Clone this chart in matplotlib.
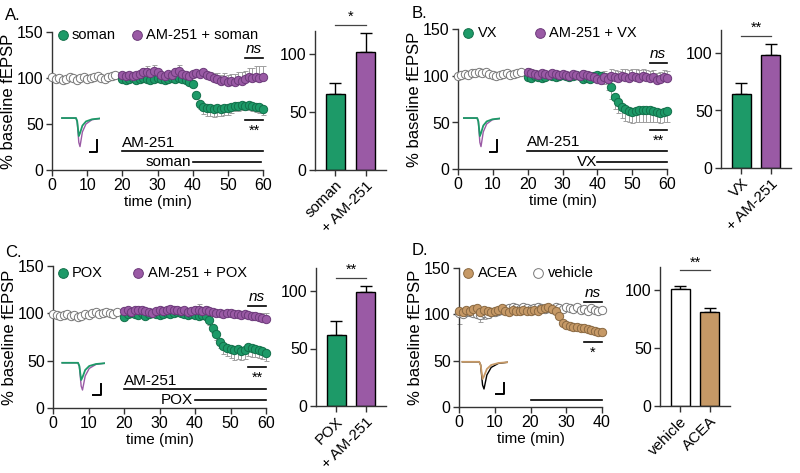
import numpy as np
import matplotlib
matplotlib.use('Agg')
import matplotlib.pyplot as plt

plt.rcParams['font.family'] = ['Liberation Sans', 'DejaVu Sans']
plt.rcParams['font.size'] = 10.5

# ---------------- data ----------------
t_base = list(range(0, 19))
t_drug = list(range(20, 61))
t_acea = list(range(0, 41))

# panel A (soman)
A_base = [101, 99, 100, 98, 99, 101, 100, 98, 100, 101, 99, 100, 101, 102, 100, 99, 101, 102, 103]
A_green = [99, 98, 99, 100, 98, 99, 100, 99, 98, 99, 100, 99, 98, 99, 100, 99, 100, 99,
           98, 96, 94, 82, 72, 68, 67, 67, 66, 67, 66, 67, 67, 68, 70, 70, 71, 70, 71, 70, 69, 68, 66]
A_green_err = [2] * 20 + [3, 5, 6, 7, 8, 8, 8, 8, 7, 7] + [7, 6, 6, 6, 6, 5, 6, 6, 6, 6, 6]
A_purple = [103, 102, 103, 102, 103, 104, 106, 107, 105, 108,
            106, 103, 102, 104, 103, 106, 108, 104, 103, 102,
            104, 105, 104, 106, 103, 102, 100, 99, 97, 98,
            96, 97, 96, 98, 97, 99, 101, 100, 101, 100, 101]
A_purple_err = [3, 3, 2, 3, 3, 3, 5, 6, 5, 6, 4, 3, 3, 3, 3, 5, 6, 3, 3, 3,
                3, 3, 3, 4, 4, 4, 5, 6, 6, 7, 7, 7, 8, 8, 9, 9, 10, 11, 12, 13, 12]

# panel B (VX)
B_base = [100, 101, 102, 101, 103, 103, 104, 103, 104, 102, 101, 100, 101, 102, 103, 101, 102, 103, 104]
B_green = [99, 98, 100, 99, 98, 99, 101, 100, 99, 100,
           101, 100, 99, 100, 101, 100, 97, 98, 97, 100,
           101, 100, 99, 97, 88, 77, 72, 67, 64, 62,
           61, 62, 63, 63, 63, 63, 62, 61, 60, 61, 62]
B_green_err = [2] * 20 + [3, 4, 8, 12, 13, 12, 12, 12, 12, 12] + [12] * 6 + [11] * 5
B_purple = [104, 103, 102, 101, 103, 102, 101, 103, 102, 101,
            102, 101, 100, 102, 101, 100, 102, 101, 100, 99,
            97, 96, 99, 97, 100, 99, 98, 100, 99, 98,
            100, 99, 98, 100, 99, 98, 99, 96, 97, 99, 98]
B_purple_err = [5, 5, 4, 3, 3, 3, 3, 3, 3, 3, 3, 3, 3, 3, 3, 3, 4, 4, 4, 4,
                5, 6, 6, 6, 7, 7, 7, 7, 8, 8, 8, 8, 8, 8, 7, 7, 7, 7, 7, 7, 7]

# panel C (POX)
C_base = [99, 98, 97, 98, 99, 97, 98, 96, 97, 99, 98, 100, 101, 99, 100, 101, 100, 99, 101]
C_green = [96, 99, 100, 99, 98, 100, 97, 99, 100, 99,
           98, 99, 100, 99, 100, 101, 100, 99, 98, 99,
           98, 97, 98, 97, 93, 85, 78, 70, 65, 63,
           62, 61, 62, 60, 61, 64, 63, 62, 61, 60, 58]
C_green_err = [2] * 20 + [3, 3, 4, 4, 5, 6, 6, 7, 8, 8] + [9, 10, 10, 9, 9, 9, 9, 8, 8, 8, 8]
C_purple = [102, 103, 101, 103, 104, 103, 102, 101, 100, 102,
            103, 102, 104, 105, 104, 103, 102, 103, 101, 102,
            103, 104, 102, 103, 102, 101, 100, 100, 99, 100,
            100, 99, 99, 98, 99, 98, 97, 97, 96, 95, 94]
C_purple_err = [3] * 20 + [5, 6, 5, 5, 4, 4, 4, 3, 3, 3] + [3, 3, 3, 3, 3, 3, 3, 3, 4, 5, 6]

# panel D (ACEA)
D_acea = [104, 103, 105, 104, 106, 107, 103, 105, 104, 103,
          104, 105, 107, 104, 103, 105, 104, 104, 105, 104,
          104, 105, 104, 106, 107, 108, 106, 104, 98, 91,
          88, 87, 86, 86, 85, 85, 84, 83, 82, 81, 81]
D_acea_err = [14, 3, 2, 2, 3, 10, 11, 10, 8, 2] + [2] * 31
D_vehicle = [101, 100, 102, 103, 101, 100, 99, 101, 100, 102,
             103, 104, 105, 106, 107, 108, 107, 106, 108, 107,
             106, 107, 108, 107, 106, 107, 106, 108, 107, 106,
             108, 107, 106, 108, 105, 106, 104, 107, 105, 104, 105]
D_vehicle_err = [2] * 41

# summary bars
A_bar_labels = ['soman', '+ AM-251']
A_bar_vals = [66, 102]
A_bar_err = [9, 16]
B_bar_labels = ['VX', '+ AM-251']
B_bar_vals = [64, 98]
B_bar_err = [10, 10]
C_bar_labels = ['POX', '+ AM-251']
C_bar_vals = [62, 99]
C_bar_err = [12, 5]
D_bar_labels = ['vehicle', 'ACEA']
D_bar_vals = [101, 81]
D_bar_err = [2.5, 3.5]

# example fEPSP traces (normalised inset coordinates)
trace_x = [0.05, 0.40, 0.43, 0.47, 0.50, 0.56, 0.65, 0.80, 1.0]
trace_drug = [0.88, 0.88, 0.80, 0.45, 0.52, 0.70, 0.80, 0.85, 0.87]
trace_block = [0.88, 0.88, 0.80, 0.30, 0.20, 0.55, 0.74, 0.84, 0.87]

GREEN, GREEN_E = '#1d9a68', '#12704a'
PURPLE, PURPLE_E = '#9a5aa5', '#6c3a7a'
TAN, TAN_E = '#c69966', '#8a6942'
ERR = '#a0a0a0'
AX = '#333333'
FS = 11.5

W, H = 800, 473
fig = plt.figure(figsize=(8, 4.73), dpi=100)


def box(x0, x1, ytop, ybot):
    return [x0 / W, 1 - ybot / H, (x1 - x0) / W, (ybot - ytop) / H]


def style(ax):
    for s in ['top', 'right']:
        ax.spines[s].set_visible(False)
    for s in ['left', 'bottom']:
        ax.spines[s].set_color(AX)
        ax.spines[s].set_linewidth(1)
    ax.tick_params(length=4, width=1, color=AX, labelsize=FS, pad=2)


def series(ax, t, y, down, up, fc, ec):
    ax.errorbar(t, y, yerr=[down, up], fmt='none', ecolor=ERR, elinewidth=0.7,
                capsize=1.8, capthick=0.7, zorder=2, clip_on=False)
    ax.plot(t, y, 'o', ms=6, mfc=fc, mec=ec, mew=0.7, zorder=3, clip_on=False)


def legend_item(ax, x, y, tx, label, fc, ec):
    ax.plot([x], [y], 'o', ms=7, mfc=fc, mec=ec, mew=0.7, clip_on=False)
    ax.text(tx, y, label, va='center', ha='left', fontsize=10.5)


def hline(ax, x0, x1, y, lw=1.2):
    ax.plot([x0, x1], [y, y], color='black', lw=lw, clip_on=False)


def time_panel(rect, xmax, letter, letter_xy):
    ax = fig.add_axes(box(*rect))
    style(ax)
    ax.set_xlim(0, xmax)
    ax.set_ylim(0, 150)
    ax.set_xticks(range(0, xmax + 1, 10))
    ax.set_yticks([0, 50, 100, 150])
    ax.set_xlabel('time (min)', fontsize=11, labelpad=1)
    ax.set_ylabel('% baseline fEPSP', fontsize=12, labelpad=1)
    fig.text(letter_xy[0] / W, 1 - letter_xy[1] / H, letter, fontsize=12, va='center')
    return ax


def inset(rect, fc1, fc2):
    ai = fig.add_axes(box(*rect))
    ai.axis('off')
    ai.set_xlim(0, 1)
    ai.set_ylim(0, 1)
    ai.plot(trace_x, trace_block, color=fc2, lw=1)
    ai.plot(trace_x, trace_drug, color=fc1, lw=1.3)
    ai.plot([0.74, 0.92, 0.92], [0.08, 0.08, 0.36], color='black', lw=1.4)


def bar_panel(rect, labels, vals, errs, colors, sig_y, star):
    ax = fig.add_axes(box(*rect))
    style(ax)
    ax.bar([0, 1], vals, width=0.65, color=colors, edgecolor='black', lw=1, zorder=2)
    ax.errorbar([0, 1], vals, yerr=[[0, 0], errs], fmt='none', ecolor='black',
                elinewidth=1, capsize=4, capthick=1, zorder=1)
    ax.set_xlim(-0.68, 1.68)
    ax.set_ylim(0, 120)
    ax.set_yticks([0, 50, 100])
    ax.set_xticks([0, 1])
    ax.set_xticklabels(labels, rotation=45, ha='right', rotation_mode='anchor', fontsize=11)
    ax.plot([0, 1], [sig_y, sig_y], color='#444444', lw=0.9, clip_on=False)
    ax.text(0.5, sig_y + 1, star, ha='center', va='bottom', fontsize=10.5)
    return ax


# ---------------- A ----------------
ax = time_panel((52, 263, 32, 170), 60, 'A.', (5, 15))
series(ax, t_base, A_base, [0] * 19, [0] * 19, 'white', '#777777')
series(ax, t_drug, A_green, A_green_err, [0] * 41, GREEN, GREEN_E)
series(ax, t_drug, A_purple, [0] * 41, A_purple_err, PURPLE, PURPLE_E)
legend_item(ax, 3.1, 147, 5.6, 'soman', GREEN, GREEN_E)
legend_item(ax, 24.2, 147, 26.7, 'AM-251 + soman', PURPLE, PURPLE_E)
hline(ax, 55, 60, 122)
ax.text(57.5, 124, 'ns', style='italic', ha='center', va='bottom', fontsize=11)
hline(ax, 55, 60, 54)
ax.text(57.5, 50, '**', ha='center', va='top')
hline(ax, 20, 60, 20.6)
ax.text(20, 22, 'AM-251', ha='left', va='bottom', fontsize=11)
hline(ax, 40, 59.5, 8.7)
ax.text(39.5, 8.7, 'soman', ha='right', va='center', fontsize=11)
inset((60, 100, 113, 155), GREEN, PURPLE)
bar_panel((315, 386, 31, 170), A_bar_labels, A_bar_vals, A_bar_err, [GREEN, PURPLE], 125, '*')

# ---------------- B ----------------
ax = time_panel((458, 667, 29.5, 169), 60, 'B.', (412, 13))
series(ax, t_base, B_base, [0] * 19, [0] * 19, 'white', '#777777')
series(ax, t_drug, B_green, B_green_err, [0] * 41, GREEN, GREEN_E)
series(ax, t_drug, B_purple, [0] * 41, B_purple_err, PURPLE, PURPLE_E)
legend_item(ax, 2.9, 146, 5.6, 'VX', GREEN, GREEN_E)
legend_item(ax, 23.5, 146, 26.2, 'AM-251 + VX', PURPLE, PURPLE_E)
hline(ax, 55, 60, 114)
ax.text(57.5, 116, 'ns', style='italic', ha='center', va='bottom', fontsize=11)
hline(ax, 55, 60, 42)
ax.text(57.5, 38, '**', ha='center', va='top')
hline(ax, 19.8, 60, 19.4)
ax.text(19.8, 21, 'AM-251', ha='left', va='bottom', fontsize=11)
hline(ax, 40, 60, 7.5)
ax.text(40, 7.5, 'VX', ha='right', va='center', fontsize=11)
inset((462, 500, 113, 155), GREEN, PURPLE)
bar_panel((721, 791, 30, 168), B_bar_labels, B_bar_vals, B_bar_err, [GREEN, PURPLE], 115, '**')

# ---------------- C ----------------
ax = time_panel((53, 266, 266, 408), 60, 'C.', (5, 252))
series(ax, t_base, C_base, [0] * 19, [0] * 19, 'white', '#777777')
series(ax, t_drug, C_green, C_green_err, [0] * 41, GREEN, GREEN_E)
series(ax, t_drug, C_purple, [0] * 41, C_purple_err, PURPLE, PURPLE_E)
legend_item(ax, 2.8, 143, 5.4, 'POX', GREEN, GREEN_E)
legend_item(ax, 24, 143, 26.8, 'AM-251 + POX', PURPLE, PURPLE_E)
hline(ax, 55, 60, 108)
ax.text(57.5, 110, 'ns', style='italic', ha='center', va='bottom', fontsize=11)
hline(ax, 55, 60, 43)
ax.text(57.5, 39, '**', ha='center', va='top')
hline(ax, 20, 60, 20)
ax.text(20, 21.5, 'AM-251', ha='left', va='bottom', fontsize=11)
hline(ax, 40, 60, 8.5)
ax.text(39.5, 8.5, 'POX', ha='right', va='center', fontsize=11)
inset((60, 105, 358, 398), GREEN, PURPLE)
bar_panel((316, 386, 268, 406), C_bar_labels, C_bar_vals, C_bar_err, [GREEN, PURPLE], 111, '**')

# ---------------- D ----------------
ax = time_panel((459, 602, 268, 407), 40, 'D.', (412, 250))
series(ax, t_acea, D_vehicle, [0] * 41, D_vehicle_err, 'white', '#777777')
series(ax, t_acea, D_acea, D_acea_err, [0] * 41, TAN, TAN_E)
legend_item(ax, 2.5, 145, 5.3, 'ACEA', TAN, TAN_E)
legend_item(ax, 22.1, 145, 24.9, 'vehicle', 'white', '#777777')
hline(ax, 35, 40, 113)
ax.text(37.5, 115, 'ns', style='italic', ha='center', va='bottom', fontsize=11)
hline(ax, 35, 40, 70)
ax.text(37.5, 66, '*', ha='center', va='top')
hline(ax, 20, 40, 7.5)
inset((460, 508, 357, 397), TAN, 'black')
bar_panel((660, 730, 267, 406), D_bar_labels, D_bar_vals, D_bar_err, ['white', TAN], 117, '**')

fig.savefig('out.png', dpi=100)
